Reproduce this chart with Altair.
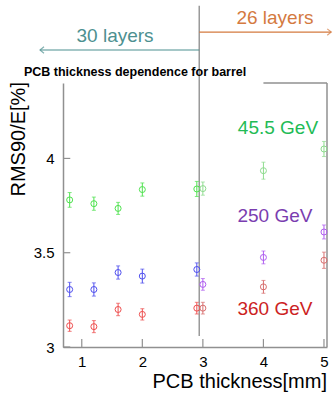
import altair as alt
import pandas as pd

# ---- data ----
x30 = [0.8, 1.2, 1.6, 2.0, 2.9]
x26 = [3.0, 4.0, 5.0]

g30 = [3.78, 3.76, 3.735, 3.835, 3.838]
g30e = [0.039, 0.035, 0.032, 0.035, 0.04]
b30 = [3.305, 3.305, 3.395, 3.376, 3.411]
b30e = [0.038, 0.035, 0.035, 0.037, 0.035]
r30 = [3.113, 3.108, 3.199, 3.173, 3.206]
r30e = [0.03, 0.032, 0.033, 0.03, 0.031]

g26 = [3.84, 3.935, 4.05]
g26e = [0.035, 0.045, 0.04]
p26 = [3.332, 3.475, 3.61]
p26e = [0.031, 0.034, 0.037]
r26 = [3.206, 3.319, 3.46]
r26e = [0.031, 0.034, 0.043]

series_colors = {
    "g30": "#4fe24f", "b30": "#4f4fee", "r30": "#ee4f4f",
    "g26": "#8fdc8f", "p26": "#b05ef0", "r26": "#d86e6e",
}

y_ticks = [3, 3.5, 4]
x_ticks = [1, 2, 3, 4, 5]

labels = ["45.5 GeV", "250 GeV", "360 GeV"]
label_x = [4.24, 4.19, 4.19]
label_y = [4.132, 3.661, 3.169]
label_colors = ["#22bb55", "#7a3db0", "#cc2222"]

XMIN, XMAX = 0.69, 5.05
YMIN, YMAX = 3.0, 4.4
SEP = 2.94

rows = []
for name, xs, ys, es in [
    ("g30", x30, g30, g30e), ("b30", x30, b30, b30e), ("r30", x30, r30, r30e),
    ("g26", x26, g26, g26e), ("p26", x26, p26, p26e), ("r26", x26, r26, r26e),
]:
    for xv, yv, ev in zip(xs, ys, es):
        rows.append({"x": xv, "y": yv, "lo": yv - ev, "hi": yv + ev,
                     "c": series_colors[name]})
df = pd.DataFrame(rows)

xs = alt.Scale(domain=[XMIN, XMAX], nice=False, zero=False)
ys = alt.Scale(domain=[YMIN, YMAX], nice=False, zero=False)

base = alt.Chart(df)

xaxis = alt.Axis(values=x_ticks, ticks=False, tickSize=0, grid=False,
                 domainColor="#909090", domainWidth=1.5, labelFontSize=15,
                 labelFont="Liberation Sans", labelColor="black",
                 labelPadding=7, title=None, format="~g")
yaxis = alt.Axis(values=y_ticks, ticks=False, tickSize=0, grid=False,
                 domainColor="#909090", domainWidth=1.5, labelFontSize=15,
                 labelFont="Liberation Sans", labelColor="black",
                 labelPadding=9, title=None, format="~g")

err = base.mark_rule(strokeWidth=1).encode(
    x=alt.X("x:Q", scale=xs, axis=xaxis),
    y=alt.Y("lo:Q", scale=ys, axis=yaxis),
    y2="hi:Q",
    color=alt.Color("c:N", scale=None),
)
cap_lo = base.mark_point(shape="stroke", size=16, strokeWidth=1, filled=False).encode(
    x=alt.X("x:Q", scale=xs), y=alt.Y("lo:Q", scale=ys), color=alt.Color("c:N", scale=None))
cap_hi = base.mark_point(shape="stroke", size=16, strokeWidth=1, filled=False).encode(
    x=alt.X("x:Q", scale=xs), y=alt.Y("hi:Q", scale=ys), color=alt.Color("c:N", scale=None))
pts = base.mark_point(shape="circle", size=36, strokeWidth=1, filled=False, opacity=1).encode(
    x=alt.X("x:Q", scale=xs), y=alt.Y("y:Q", scale=ys), color=alt.Color("c:N", scale=None))

# inward ticks
ytick_df = pd.DataFrame({"y": y_ticks, "x1": [XMIN] * 3, "x2": [XMIN + 0.12] * 3})
ytick = alt.Chart(ytick_df).mark_rule(color="#909090", strokeWidth=1.2).encode(
    x=alt.X("x1:Q", scale=xs), x2="x2:Q", y=alt.Y("y:Q", scale=ys))
xtick_df = pd.DataFrame({"x": x_ticks, "y1": [YMIN] * 5, "y2": [YMIN + 0.042] * 5})
xtick = alt.Chart(xtick_df).mark_rule(color="#909090", strokeWidth=1.2).encode(
    x=alt.X("x:Q", scale=xs), y=alt.Y("y1:Q", scale=ys), y2="y2:Q")

# frame: right and partial top
frame_df = pd.DataFrame({"x1": [XMAX, 4.0], "x2": [XMAX, XMAX],
                         "y1": [YMIN, YMAX], "y2": [YMAX, YMAX]})
frame = alt.Chart(frame_df).mark_rule(color="#909090", strokeWidth=1.5).encode(
    x=alt.X("x1:Q", scale=xs), x2="x2:Q", y=alt.Y("y1:Q", scale=ys), y2="y2:Q")

# separator line
sep_df = pd.DataFrame({"x": [SEP], "y1": [3.058], "y2": [4.81]})
sep = alt.Chart(sep_df).mark_rule(color="#999999", strokeWidth=1.5).encode(
    x=alt.X("x:Q", scale=xs), y=alt.Y("y1:Q", scale=ys), y2="y2:Q")

# arrows
arr_df = pd.DataFrame({"x1": [SEP, SEP], "x2": [0.31, 5.12], "y": [4.575, 4.67],
                       "c": ["#4d9090", "#d47a3f"]})
arr = alt.Chart(arr_df).mark_rule(strokeWidth=1.2).encode(
    x=alt.X("x1:Q", scale=xs), x2="x2:Q", y=alt.Y("y:Q", scale=ys),
    color=alt.Color("c:N", scale=None))
head_l = alt.Chart(arr_df.iloc[[0]]).mark_point(
    shape="M2,-1.6L0,0L2,1.6", size=16, filled=False, strokeWidth=1.2).encode(
    x=alt.X("x2:Q", scale=xs), y=alt.Y("y:Q", scale=ys), color=alt.Color("c:N", scale=None))
head_r = alt.Chart(arr_df.iloc[[1]]).mark_point(
    shape="M-2,-1.6L0,0L-2,1.6", size=16, filled=False, strokeWidth=1.2).encode(
    x=alt.X("x2:Q", scale=xs), y=alt.Y("y:Q", scale=ys), color=alt.Color("c:N", scale=None))

ann_df = pd.DataFrame({"t": ["30 layers", "26 layers"], "x": [1.55, 4.19],
                       "y": [4.617, 4.715], "c": ["#4d9090", "#d47a3f"]})
ann = alt.Chart(ann_df).mark_text(fontSize=19, font="Liberation Sans",
                                  align="center", baseline="alphabetic").encode(
    x=alt.X("x:Q", scale=xs), y=alt.Y("y:Q", scale=ys), text="t:N",
    color=alt.Color("c:N", scale=None))

lab_df = pd.DataFrame({"t": labels, "x": label_x, "y": label_y, "c": label_colors})
lab = alt.Chart(lab_df).mark_text(fontSize=19, font="Liberation Sans",
                                  align="center", baseline="alphabetic").encode(
    x=alt.X("x:Q", scale=xs), y=alt.Y("y:Q", scale=ys), text="t:N",
    color=alt.Color("c:N", scale=None))

title_df = pd.DataFrame({"t": ["PCB thickness dependence for barrel"], "x": [0.045], "y": [4.437]})
title = alt.Chart(title_df).mark_text(fontSize=12.5, fontWeight="bold", font="Liberation Sans",
                                      align="left", baseline="alphabetic", color="black").encode(
    x=alt.X("x:Q", scale=xs), y=alt.Y("y:Q", scale=ys), text="t:N")

ytitle_df = pd.DataFrame({"t": ["RMS90/E[%]"], "x": [0.062], "y": [4.405]})
ytitle = alt.Chart(ytitle_df).mark_text(fontSize=20, font="Liberation Sans", angle=270,
                                        align="right", baseline="alphabetic", color="black").encode(
    x=alt.X("x:Q", scale=xs), y=alt.Y("y:Q", scale=ys), text="t:N")

xtitle_df = pd.DataFrame({"t": ["PCB thickness[mm]"], "x": [XMAX], "y": [2.783]})
xtitle = alt.Chart(xtitle_df).mark_text(fontSize=20, font="Liberation Sans",
                                        align="right", baseline="alphabetic", color="black").encode(
    x=alt.X("x:Q", scale=xs), y=alt.Y("y:Q", scale=ys), text="t:N")

chart = alt.layer(
    err, ytick, xtick, frame, sep, cap_lo, cap_hi, pts, arr, head_l, head_r,
    ann, lab, title, ytitle, xtitle
).properties(
    width=264, height=264,
    autosize=alt.AutoSizeParams(type="none"),
    padding={"left": 63, "top": 83, "right": 6, "bottom": 49},
    background="white",
).configure_view(stroke=None)

chart.save("out.html", embed_options={"renderer": "svg", "actions": False})
